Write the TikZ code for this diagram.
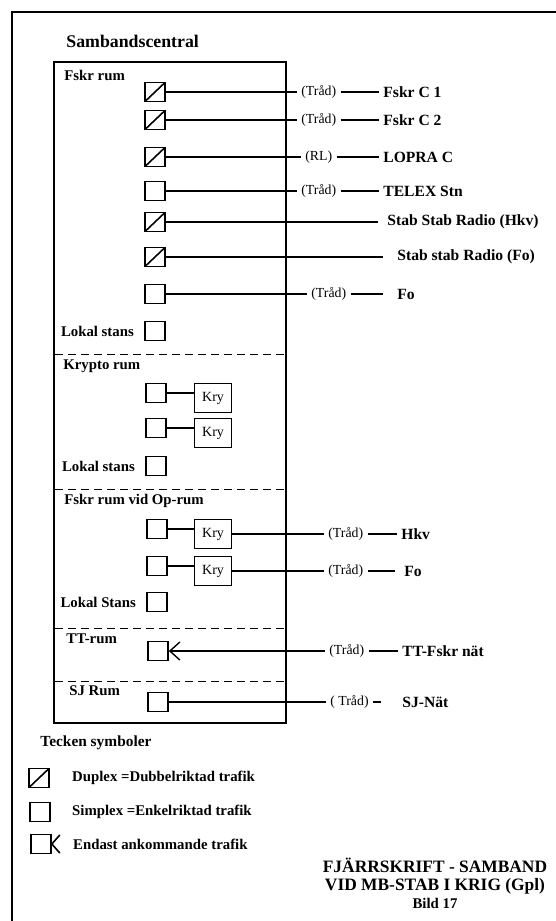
\documentclass[tikz,border=0pt]{standalone}
\usepackage{fontspec}
\setmainfont{Liberation Serif}
\usetikzlibrary{arrows.meta,positioning}

\begin{document}
\begin{tikzpicture}[x=0.5pt,y=-0.5pt,
    simplex/.style={draw,line width=0.8pt,minimum width=10pt,minimum height=9.5pt,inner sep=0pt},
    duplex/.style={simplex,path picture={\draw[line width=0.8pt] (path picture bounding box.south west) -- (path picture bounding box.north east);}},
    kry/.style={draw,line width=0.8pt,minimum width=18.5pt,minimum height=14.5pt,inner sep=0pt,font=\fontsize{7}{8}\selectfont},
    room/.style={anchor=west,inner sep=0pt,font=\fontsize{7.4}{8}\selectfont\bfseries},
    via/.style={anchor=west,inner sep=2pt,font=\fontsize{6.9}{8}\selectfont},
    dest/.style={anchor=west,inner sep=2pt,font=\fontsize{7.8}{9}\selectfont\bfseries},
    wire/.style={line width=0.7pt},
    incoming/.style={wire,-{Straight Barb[length=5pt,width=9pt,line width=0.7pt]}},
    divider/.style={dash pattern=on 4pt off 2.5pt,line width=0.5pt}]
    \useasboundingbox (0,0) rectangle (556,921);
    \draw[line width=1.2pt] (12,921) -- (12,12) -- (556,12);
    \node[room,font=\fontsize{8.9}{10}\selectfont\bfseries] (central) at (66,41) {Sambandscentral};
    \draw[line width=0.9pt] (54,62) rectangle (286,723);
    \foreach \y in {354,489,628,681}
        \draw[divider] (55,\y) -- (285,\y);

    \node[room] (fskr) at (64,75) {Fskr rum};
    \node[room] (krypto) at (63,366) {Krypto rum};
    \node[room] (oprum) at (64,501) {Fskr rum vid Op-rum};
    \node[room] (ttrum) at (66,639) {TT-rum};
    \node[room] (sjrum) at (69,691) {SJ Rum};

    \node[duplex] (f1) at (155,92) {};
    \node[via] (t1) at (297,92) {(Tråd)};
    \node[dest] (n1) at (379,92) {Fskr C 1};
    \draw[wire] (f1.east) -- (t1.west);
    \draw[wire] (t1.east) -- (n1.west);

    \node[duplex] (f2) at (155,120) {};
    \node[via] (t2) at (297,120) {(Tråd)};
    \node[dest] (n2) at (379,120) {Fskr C 2};
    \draw[wire] (f2.east) -- (t2.west);
    \draw[wire] (t2.east) -- (n2.west);

    \node[duplex] (f3) at (155,157) {};
    \node[via] (t3) at (301,157) {(RL)};
    \node[dest] (n3) at (379,157) {LOPRA C};
    \draw[wire] (f3.east) -- (t3.west);
    \draw[wire] (t3.east) -- (n3.west);

    \node[simplex] (f4) at (155,191) {};
    \node[via] (t4) at (297,191) {(Tråd)};
    \node[dest] (n4) at (379,191) {TELEX Stn};
    \draw[wire] (f4.east) -- (t4.west);
    \draw[wire] (t4.east) -- (n4.west);

    \node[duplex] (f5) at (155,222) {};
    \node[dest] (n5) at (383,222) {Stab Stab Radio (Hkv)};
    \draw[wire,shorten >=2.5pt] (f5.east) -- (n5.west);

    \node[duplex] (f6) at (155,257) {};
    \node[dest] (n6) at (393,257) {Stab stab Radio (Fo)};
    \draw[wire,shorten >=5pt] (f6.east) -- (n6.west);

    \node[simplex] (f7) at (155,294) {};
    \node[via] (t7) at (307,294) {(Tråd)};
    \node[dest] (n7) at (393,294) {Fo};
    \draw[wire] (f7.east) -- (t7.west);
    \draw[wire,shorten >=5pt] (t7.east) -- (n7.west);

    \node[simplex] (ls1) at (155,331) {};
    \node[room,left=5pt of ls1] (ls1t) {Lokal stans};

    \node[simplex] (k1) at (156,393) {};
    \node[kry,right=13.5pt of k1,yshift=-2.5pt] (c1) {Kry};
    \draw[wire] (k1.east) -- (k1.east -| c1.west);
    \node[simplex] (k2) at (156,428) {};
    \node[kry,right=13.5pt of k2,yshift=-2.5pt] (c2) {Kry};
    \draw[wire] (k2.east) -- (k2.east -| c2.west);
    \node[simplex] (ls2) at (156,466) {};
    \node[room,left=5pt of ls2] (ls2t) {Lokal stans};

    \node[simplex] (o1) at (157,529) {};
    \node[kry,right=13pt of o1,yshift=-2.5pt] (c3) {Kry};
    \node[via] (t8) at (324,534) {(Tråd)};
    \node[dest] (n8) at (397,534) {Hkv};
    \draw[wire] (o1.east) -- (o1.east -| c3.west);
    \draw[wire] (c3.east) -- (t8.west);
    \draw[wire] (t8.east) -- (n8.west);

    \node[simplex] (o2) at (157,566) {};
    \node[kry,right=13pt of o2,yshift=-2.5pt] (c4) {Kry};
    \node[via] (t9) at (324,571) {(Tråd)};
    \node[dest] (n9) at (400,571) {Fo};
    \draw[wire] (o2.east) -- (o2.east -| c4.west);
    \draw[wire] (c4.east) -- (t9.west);
    \draw[wire,shorten >=2.5pt] (t9.east) -- (n9.west);

    \node[simplex] (ls3) at (157,602) {};
    \node[room,left=5pt of ls3] (ls3t) {Lokal Stans};

    \node[simplex] (tt) at (158,651) {};
    \node[via] (t10) at (325,651) {(Tråd)};
    \node[dest] (n10) at (398,651) {TT-Fskr nät};
    \draw[incoming] (t10.west) -- (tt.east);
    \draw[wire] (t10.east) -- (n10.west);

    \node[simplex] (sj) at (158,702) {};
    \node[via] (t11) at (326,702) {( Tråd)};
    \node[dest] (n11) at (398,702) {SJ-Nät};
    \draw[wire] (sj.east) -- (t11.west);
    \draw[wire,shorten >=8.5pt] (t11.east) -- (n11.west);

    \node[room,font=\fontsize{7.7}{9}\selectfont\bfseries] (legend) at (40,743) {Tecken symboler};
    \node[duplex] (lg1) at (39,778) {};
    \node[room,right=11pt of lg1] (lg1t) {Duplex =Dubbelriktad trafik};
    \node[simplex] (lg2) at (40,812) {};
    \node[room,right=10.5pt of lg2] (lg2t) {Simplex =Enkelriktad trafik};
    \node[simplex] (lg3) at (41,844) {};
    \draw[line width=0.8pt] (lg3.east) ++(8,-9) -- (lg3.east) -- ++(8,9);
    \node[room,right=10.5pt of lg3] (lg3t) {Endast ankommande trafik};

    \node[align=center,font=\fontsize{8.7}{9}\selectfont\bfseries] (caption) at (435,883)
      {FJÄRRSKRIFT - SAMBAND\\VID MB-STAB I KRIG (Gpl)\\{\fontsize{7.4}{8.5}\selectfont Bild 17}};
  \end{tikzpicture}
\end{document}
